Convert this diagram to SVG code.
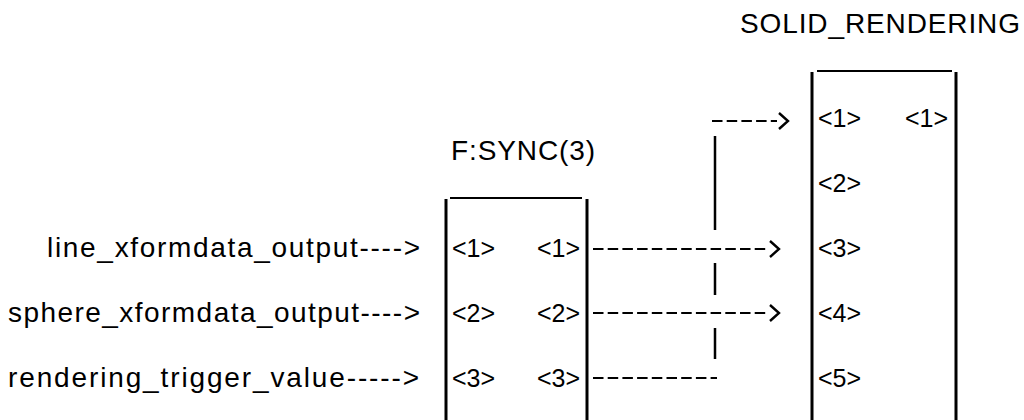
<svg xmlns="http://www.w3.org/2000/svg" width="1024" height="420" viewBox="0 0 1024 420">
<style>
text{font-family:"Liberation Sans",Arial,Helvetica,sans-serif;font-size:28px;fill:#000}
text.port{font-size:25px}
.box{stroke:#000;stroke-width:3;fill:none}
.top{stroke:#000;stroke-width:2;fill:none}
.dash{stroke:#000;stroke-width:2;fill:none;stroke-dasharray:10.5 4.2}
.solid{stroke:#000;stroke-width:2.5;fill:none}
</style>
<defs>
<marker id="chev" markerUnits="userSpaceOnUse" markerWidth="16" markerHeight="20" viewBox="0 -10 16 20" refX="0" refY="0" orient="auto" overflow="visible">
<path d="M2,-8 L11,0 L2,8" fill="none" stroke="#000" stroke-width="2.4"/>
</marker>
</defs>
<rect width="1024" height="420" fill="#fff"/>
<g id="inputs">
<text x="47" y="257" textLength="373">line_xformdata_output----&gt;</text>
<text x="8" y="322" textLength="412">sphere_xformdata_output----&gt;</text>
<text x="8" y="387" textLength="411">rendering_trigger_value-----&gt;</text>
</g>
<g id="fsync">
<text x="451" y="160" textLength="144">F:SYNC(3)</text>
<line class="top" x1="450" y1="198" x2="582" y2="198"/>
<line class="box" x1="446" y1="199" x2="446" y2="420"/>
<line class="box" x1="587" y1="199" x2="587" y2="420"/>
<text class="port" x="452" y="257">&lt;1&gt;</text>
<text class="port" x="452" y="322">&lt;2&gt;</text>
<text class="port" x="452" y="387">&lt;3&gt;</text>
<text class="port" x="537" y="257">&lt;1&gt;</text>
<text class="port" x="537" y="322">&lt;2&gt;</text>
<text class="port" x="537" y="387">&lt;3&gt;</text>
</g>
<g id="solid_rendering">
<text x="740" y="33" textLength="280">SOLID_RENDERING</text>
<line class="top" x1="817" y1="71" x2="952" y2="71"/>
<line class="box" x1="812" y1="72" x2="812" y2="420"/>
<line class="box" x1="956" y1="72" x2="956" y2="420"/>
<text class="port" x="818" y="127">&lt;1&gt;</text>
<text class="port" x="818" y="192">&lt;2&gt;</text>
<text class="port" x="818" y="257">&lt;3&gt;</text>
<text class="port" x="818" y="322">&lt;4&gt;</text>
<text class="port" x="818" y="387">&lt;5&gt;</text>
<text class="port" x="905" y="127">&lt;1&gt;</text>
</g>
<g id="connectors">
<path class="dash" d="M593,249 H768" marker-end="url(#chev)"/>
<path class="dash" d="M593,313 H768" marker-end="url(#chev)"/>
<path class="dash" d="M593,378 H717"/>
<path class="solid" d="M715,136 V230 M715,263 V295 M715,328 V359"/>
<path class="dash" d="M712,121 H777" marker-end="url(#chev)"/>
</g>
</svg>
